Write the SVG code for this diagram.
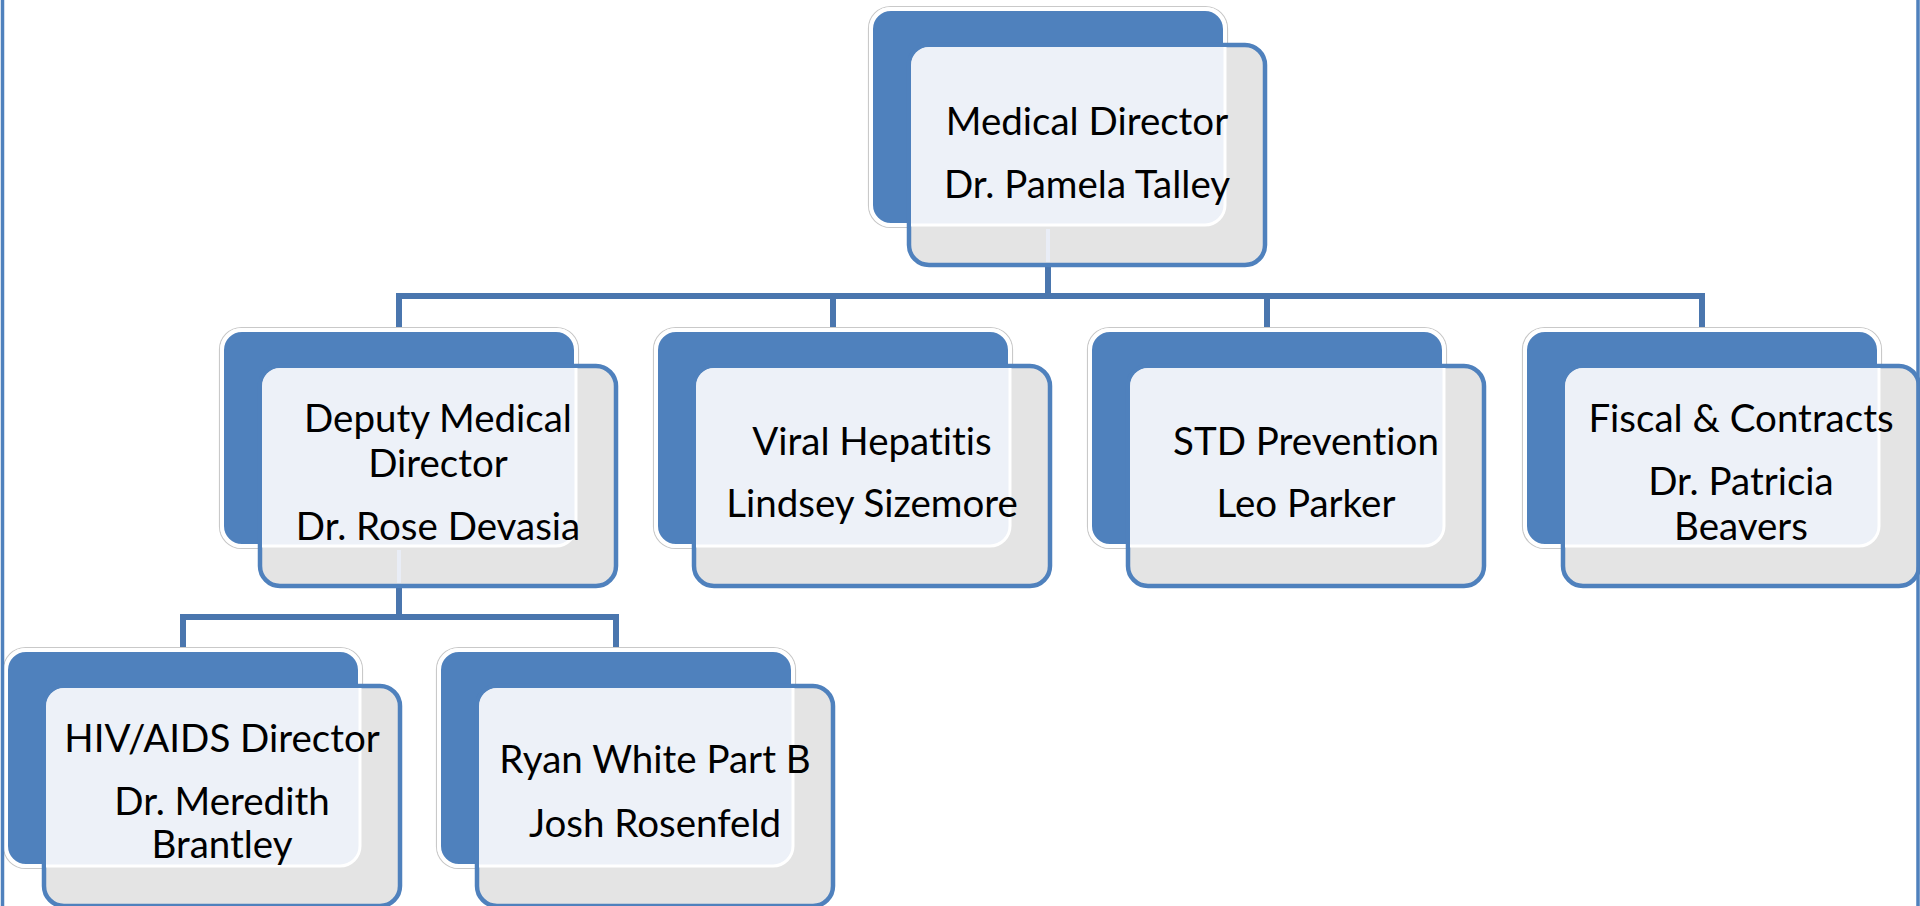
<svg xmlns="http://www.w3.org/2000/svg" xmlns:xlink="http://www.w3.org/1999/xlink" width="1920" height="906" viewBox="0 0 1920 906">
<style>
.halo{fill:none;stroke:#c9c9c9;stroke-width:1.2}
.back{fill:#4f81bd;stroke:#ffffff;stroke-width:4}
.front{fill:#e4e4e4;stroke:#4f81bd;stroke-width:4.5}
.light{fill:#edf1f8;stroke:#ffffff;stroke-width:3}
.ghost{stroke:#e9edf6;stroke-width:4}
.conn{fill:none;stroke:#4a76ae;stroke-width:6;stroke-linejoin:miter}
.lbl{font-family:Lato,"Liberation Sans",sans-serif;font-size:38.5px;fill:#000;text-anchor:middle;font-variant-ligatures:none;font-feature-settings:"liga" 0}
.border{stroke:#4f81bd;stroke-width:3.5}
</style>
<defs>
<clipPath id="frontClip" clipPathUnits="userSpaceOnUse">
<rect x="40" y="38" width="352" height="216" rx="18"/>
</clipPath>
<g id="card">
<rect class="halo" x="-2.5" y="-2.5" width="359" height="221" rx="22"/>
<rect class="back" x="0" y="0" width="354" height="216" rx="20"/>
<rect class="front" x="38" y="36" width="356" height="220" rx="20"/>
<rect class="light" x="0" y="0" width="354" height="216" rx="20" clip-path="url(#frontClip)"/>
</g>
</defs>
<rect width="1920" height="906" fill="#ffffff"/>

<g id="connectors">
<path class="conn" d="M1048 266 V296 M399 328 V296 H1702 V328 M833 296 V328 M1267 296 V328"/>
<path class="conn" d="M399 587 V617 M183 648 V617 H616 V648"/>
</g>

<g id="node-medical-director" transform="translate(871,9)">
<use xlink:href="#card"/>
<line class="ghost" x1="177" y1="220" x2="177" y2="253"/>
<text class="lbl" x="216" y="126">Medical Director</text>
<text class="lbl" x="216" y="189">Dr. Pamela Talley</text>
</g>

<g id="node-deputy" transform="translate(222,330)">
<use xlink:href="#card"/>
<line class="ghost" x1="177" y1="220" x2="177" y2="253"/>
<text class="lbl" x="216" y="102">Deputy Medical</text>
<text class="lbl" x="216" y="147">Director</text>
<text class="lbl" x="216" y="210">Dr. Rose Devasia</text>
</g>

<g id="node-viral" transform="translate(656,330)">
<use xlink:href="#card"/>
<text class="lbl" x="216" y="125">Viral Hepatitis</text>
<text class="lbl" x="216" y="187">Lindsey Sizemore</text>
</g>

<g id="node-std" transform="translate(1090,330)">
<use xlink:href="#card"/>
<text class="lbl" x="216" y="125">STD Prevention</text>
<text class="lbl" x="216" y="187">Leo Parker</text>
</g>

<g id="node-fiscal" transform="translate(1525,330)">
<use xlink:href="#card"/>
<text class="lbl" x="216" y="102">Fiscal &amp; Contracts</text>
<text class="lbl" x="216" y="165">Dr. Patricia</text>
<text class="lbl" x="216" y="210">Beavers</text>
</g>

<g id="node-hiv" transform="translate(6,650)">
<use xlink:href="#card"/>
<text class="lbl" x="216" y="102">HIV/AIDS Director</text>
<text class="lbl" x="216" y="165">Dr. Meredith</text>
<text class="lbl" x="216" y="208">Brantley</text>
</g>

<g id="node-ryan" transform="translate(439,650)">
<use xlink:href="#card"/>
<text class="lbl" x="216" y="123">Ryan White Part B</text>
<text class="lbl" x="216" y="187">Josh Rosenfeld</text>
</g>

<line class="border" x1="2.5" y1="0" x2="2.5" y2="906"/>
<line class="border" x1="1918" y1="0" x2="1918" y2="906"/>
</svg>
